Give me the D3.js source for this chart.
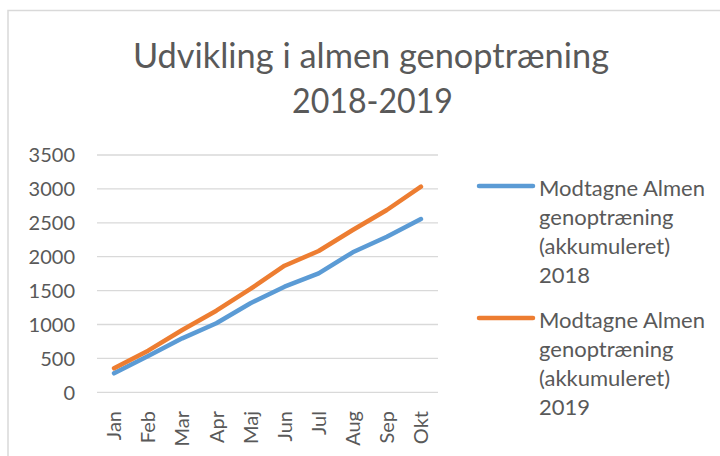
<!DOCTYPE html>
<html>
<head>
<meta charset="utf-8">
<script src="https://cdn.jsdelivr.net/npm/d3@7"></script>
<style>
  body { margin: 0; background: #fff; }
  text { font-family: Lato, "Open Sans", sans-serif; fill: #595959; }
</style>
</head>
<body>
<div id="root"></div>
<script>
// data
const months = ["Jan", "Feb", "Mar", "Apr", "Maj", "Jun", "Jul", "Aug", "Sep", "Okt"]
const values2018 = [280, 535, 796, 1018, 1313, 1558, 1755, 2065, 2295, 2556]
const values2019 = [354, 614, 919, 1204, 1524, 1867, 2084, 2394, 2689, 3033]
const yTicks = [0, 500, 1000, 1500, 2000, 2500, 3000, 3500]
const titleLines = ["Udvikling i almen genoptræning", "2018-2019"]
const seriesNames = [
    ["Modtagne Almen", "genoptræning", "(akkumuleret)", "2018"],
    ["Modtagne Almen", "genoptræning", "(akkumuleret)", "2019"]
]
const colors = ["#5B9BD5", "#ED7D31"]

const width = 720, height = 456
const svg = d3.select("#root").append("svg")
    .attr("width", width).attr("height", height)

// chart frame
svg.append("rect")
    .attr("x", 8).attr("y", 10.5)
    .attr("width", 730).attr("height", 460)
    .attr("fill", "none").attr("stroke", "#d9d9d9").attr("stroke-width", 1.5)

// title
const titleX = [133, 292], titleY = [68, 113], titleW = [476, 161]
titleLines.forEach((t, i) => {
    svg.append("text")
        .attr("x", titleX[i]).attr("y", titleY[i])
        .attr("textLength", titleW[i]).attr("lengthAdjust", "spacingAndGlyphs")
        .style("font-size", "35px")
        .text(t)
})

const x = d3.scaleBand().domain(months).range([97, 438])
const y = d3.scaleLinear().domain([0, 3500]).range([392.3, 155])

// gridlines
svg.append("g").selectAll("line")
    .data(yTicks).join("line")
    .attr("x1", 97).attr("x2", 438)
    .attr("y1", d => y(d)).attr("y2", d => y(d))
    .attr("stroke", "#d9d9d9").attr("stroke-width", 1.3)

// y axis labels
svg.append("g").selectAll("text")
    .data(yTicks).join("text")
    .attr("x", 75).attr("y", d => y(d))
    .attr("dy", "0.36em")
    .attr("text-anchor", "end")
    .style("font-size", "20px")
    .text(d => d)

// x axis labels, rotated
svg.append("g").selectAll("text")
    .data(months).join("text")
    .attr("transform", d => `translate(${x(d) + x.bandwidth() / 2},411) rotate(-90)`)
    .attr("dy", "0.36em")
    .attr("text-anchor", "end")
    .style("font-size", "20px")
    .text(d => d)

const line = d3.line()
    .x((d, i) => x(months[i]) + x.bandwidth() / 2)
    .y(d => y(d))

;[values2018, values2019].forEach((vals, i) => {
    svg.append("path")
        .datum(vals)
        .attr("d", line)
        .attr("fill", "none")
        .attr("stroke", colors[i])
        .attr("stroke-width", 4.5)
        .attr("stroke-linecap", "round")
        .attr("stroke-linejoin", "round")
})

// legend
const legendTop = [186, 318]
seriesNames.forEach((lines, i) => {
    const g = svg.append("g")
    g.append("line")
        .attr("x1", 479).attr("x2", 533)
        .attr("y1", legendTop[i]).attr("y2", legendTop[i])
        .attr("stroke", colors[i]).attr("stroke-width", 4.5)
        .attr("stroke-linecap", "round")
    lines.forEach((t, j) => {
        g.append("text")
            .attr("x", 539).attr("y", legendTop[i] + 10 + j * 29)
            .style("font-size", "22px")
            .text(t)
    })
})
</script>
</body>
</html>
